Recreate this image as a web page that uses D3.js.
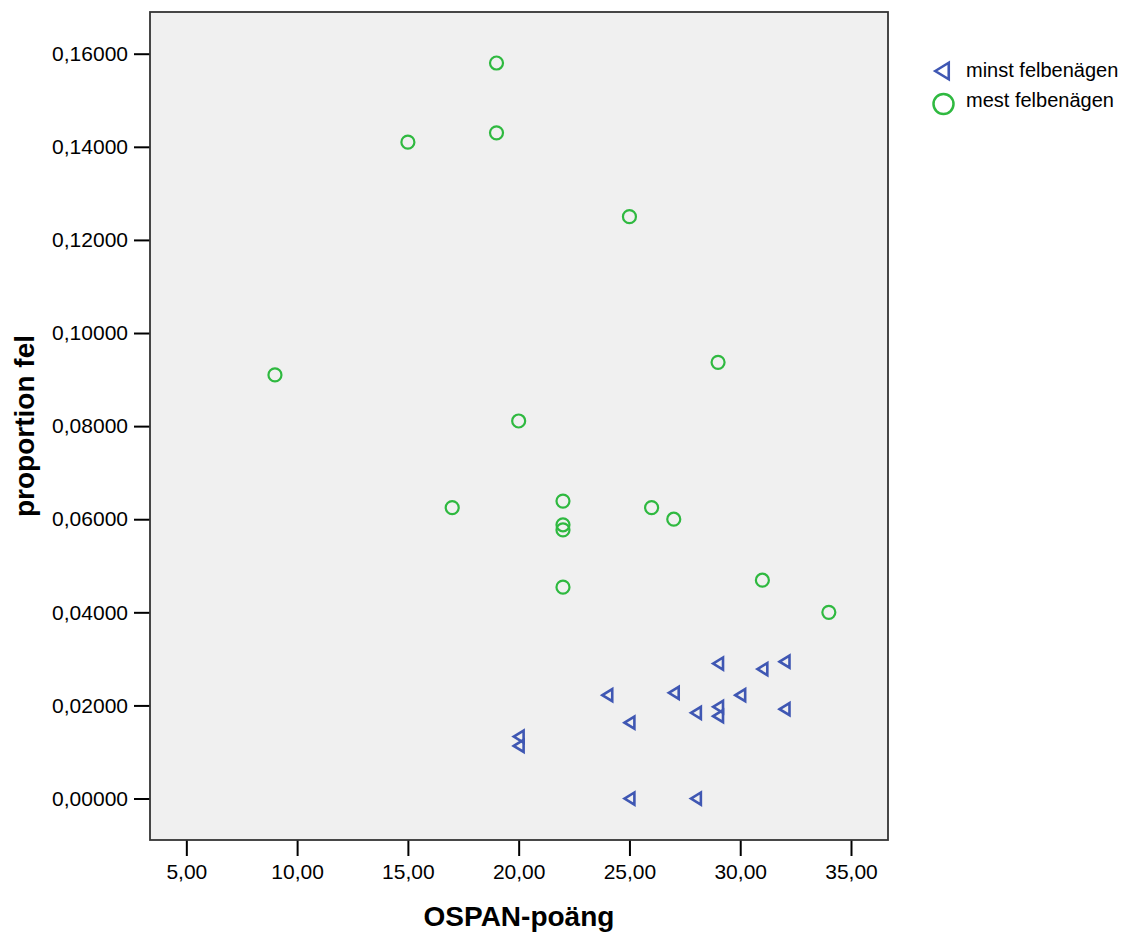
<!DOCTYPE html>
<html>
<head>
<meta charset="utf-8">
<script src="https://cdn.jsdelivr.net/npm/d3@7"></script>
<style>
  body { margin: 0; background: #fff; }
  svg text { font-family: "Liberation Sans", Arial, sans-serif; fill: #000; }
</style>
</head>
<body>
<script>
// DATA
const seriesNames = ["minst felbenägen", "mest felbenägen"];

// minst felbenägen (triangles)
const minstX = [20, 20, 24, 25, 27, 28, 29, 29, 29, 30, 31, 32, 32, 25, 28];
const minstY = [0.0133, 0.0113, 0.0222, 0.0163, 0.0227, 0.0184, 0.0290, 0.0197, 0.0177, 0.0222, 0.0278, 0.0294, 0.0192, 0.0, 0.0];

// mest felbenägen (circles)
const mestX = [9, 15, 19, 19, 17, 20, 22, 22, 22, 22, 25, 26, 27, 29, 31, 34];
const mestY = [0.0910, 0.1410, 0.1580, 0.1430, 0.0625, 0.0811, 0.0639, 0.0588, 0.0577, 0.0454, 0.1250, 0.0625, 0.0600, 0.0937, 0.0469, 0.0400];

const xTicks = [5, 10, 15, 20, 25, 30, 35];
const yTicks = [0, 0.02, 0.04, 0.06, 0.08, 0.10, 0.12, 0.14, 0.16];

// LAYOUT
const W = 1127, H = 933;
const plot = { left: 150, top: 12, right: 888, bottom: 840 };

const svg = d3.select("body").append("svg")
  .attr("width", W).attr("height", H);

// SCALES
const X = d3.scaleLinear().domain([3.36, 36.67]).range([plot.left, plot.right]);
const Y = d3.scaleLinear().domain([-0.00891, 0.16896]).range([plot.bottom, plot.top]);

const fmtX = d => d3.format(".2f")(d).replace(".", ",");
const fmtY = d => d3.format(".5f")(d).replace(".", ",");

// BACKGROUND
svg.append("rect")
  .attr("x", plot.left).attr("y", plot.top)
  .attr("width", plot.right - plot.left).attr("height", plot.bottom - plot.top)
  .attr("fill", "#f0f0f0");

// AXES
const xAxis = svg.append("g")
  .attr("transform", `translate(0, ${plot.bottom})`)
  .call(d3.axisBottom(X).tickValues(xTicks).tickFormat(fmtX).tickSize(16).tickSizeOuter(0).tickPadding(8));
const yAxis = svg.append("g")
  .attr("transform", `translate(${plot.left}, 0)`)
  .call(d3.axisLeft(Y).tickValues(yTicks).tickFormat(fmtY).tickSize(16).tickSizeOuter(0).tickPadding(6));

[xAxis, yAxis].forEach(a => {
  a.select(".domain").remove();
  a.selectAll(".tick line").attr("stroke", "#000").attr("stroke-width", 2);
  a.selectAll(".tick text").style("font-size", "21px");
});

// FRAME
svg.append("rect")
  .attr("x", plot.left).attr("y", plot.top)
  .attr("width", plot.right - plot.left).attr("height", plot.bottom - plot.top)
  .attr("fill", "none").attr("stroke", "#333").attr("stroke-width", 1.8);

// MARKERS
const blue = "#3f57b3", green = "#2fb940";
const tri = s => `M${-s * 0.45},0 L${s * 0.45},${-s * 0.55} L${s * 0.45},${s * 0.55} Z`;

svg.append("g").selectAll("path")
  .data(minstX.map((d, i) => ({ x: d, y: minstY[i] })))
  .enter().append("path")
  .attr("d", tri(11))
  .attr("transform", d => `translate(${X(d.x)}, ${Y(d.y)})`)
  .attr("fill", "none").attr("stroke", blue).attr("stroke-width", 2.6);

svg.append("g").selectAll("circle")
  .data(mestX.map((d, i) => ({ x: d, y: mestY[i] })))
  .enter().append("circle")
  .attr("cx", d => X(d.x)).attr("cy", d => Y(d.y)).attr("r", 6.5)
  .attr("fill", "none").attr("stroke", green).attr("stroke-width", 2.2);

// AXIS TITLES
svg.append("text")
  .attr("x", (plot.left + plot.right) / 2).attr("y", 926)
  .attr("text-anchor", "middle")
  .style("font-size", "28px").style("font-weight", "bold")
  .text("OSPAN-poäng");

svg.append("text")
  .attr("transform", `translate(34, ${(plot.top + plot.bottom) / 2}) rotate(-90)`)
  .attr("text-anchor", "middle")
  .style("font-size", "28px").style("font-weight", "bold")
  .text("proportion fel");

// LEGEND
const legend = svg.append("g").attr("transform", "translate(942, 0)");
legend.append("path")
  .attr("d", tri(15))
  .attr("transform", "translate(0, 71)")
  .attr("fill", "none").attr("stroke", blue).attr("stroke-width", 2.6);
legend.append("circle")
  .attr("cx", 1.5).attr("cy", 104).attr("r", 10)
  .attr("fill", "none").attr("stroke", green).attr("stroke-width", 2.5);
legend.selectAll("text.leg")
  .data(seriesNames)
  .enter().append("text")
  .attr("class", "leg")
  .attr("x", 24).attr("y", (d, i) => 77 + i * 30)
  .style("font-size", "20px")
  .text(d => d);
</script>
</body>
</html>
